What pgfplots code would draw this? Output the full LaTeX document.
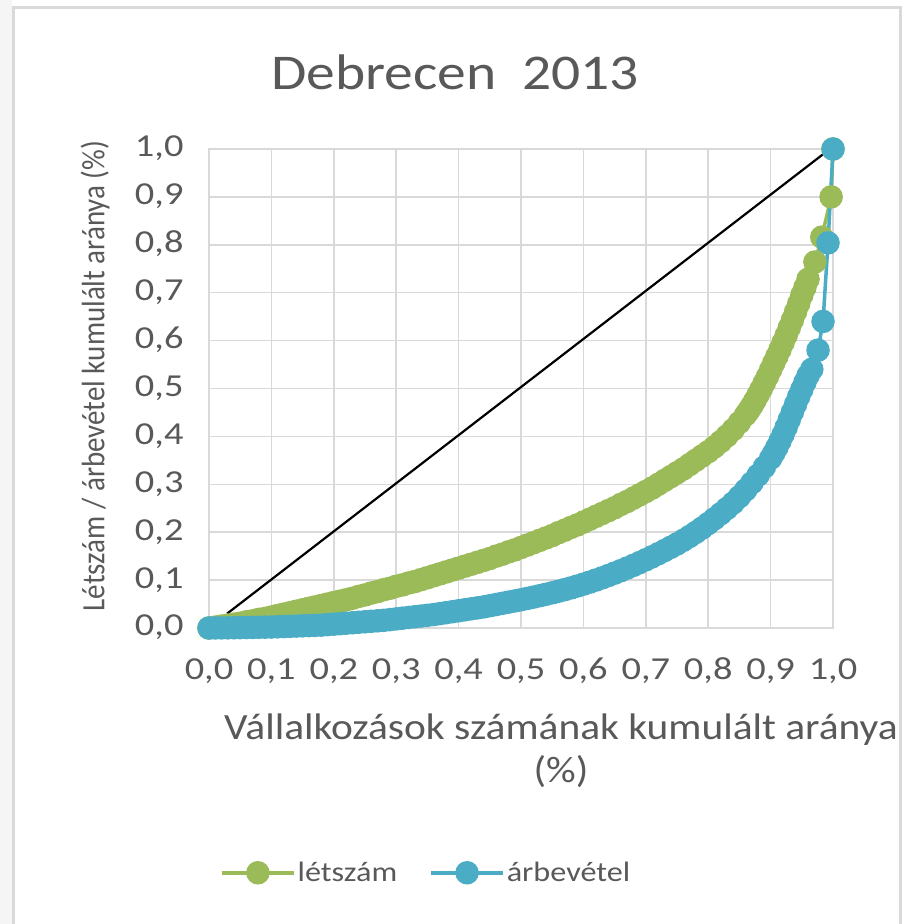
\documentclass[border=0pt]{standalone}
\usepackage{fontspec}
\setmainfont{Carlito}
\usepackage{graphicx}
\usepackage{pgfplots}
\pgfplotsset{compat=1.18}
\definecolor{grn}{HTML}{9BBB59}
\definecolor{blu}{HTML}{4BACC6}
\definecolor{txt}{HTML}{595959}
\definecolor{grd}{HTML}{D9D9D9}
\newcommand{\fs}[1]{\fontsize{#1bp}{#1bp}\selectfont}
\newcommand{\sx}[2][1.2]{\scalebox{#1}[1]{#2}}
\begin{document}
\begin{tikzpicture}[x=1bp,y=1bp]
\useasboundingbox (0,0) rectangle (903,924);
\fill[white] (0,0) rectangle (903,924);
\fill[black!4] (0,0) rectangle (12,924);
\draw[grd, line width=3bp] (13.5,-5) -- (13.5,916.5) -- (900.5,916.5) -- (900.5,-5);
\begin{axis}[
  at={(209bp,296bp)}, anchor=south west,
  scale only axis, width=624bp, height=479bp,
  xmin=0, xmax=1, ymin=0, ymax=1,
  xtick={0,0.1,0.2,0.3,0.4,0.5,0.6,0.7,0.8,0.9,1},
  ytick={0,0.1,0.2,0.3,0.4,0.5,0.6,0.7,0.8,0.9,1},
  xticklabels={{\sx{0,0}},{\sx{0,1}},{\sx{0,2}},{\sx{0,3}},{\sx{0,4}},{\sx{0,5}},{\sx{0,6}},{\sx{0,7}},{\sx{0,8}},{\sx{0,9}},{\sx{1,0}}},
  yticklabels={{\sx{0,0}},{\sx{0,1}},{\sx{0,2}},{\sx{0,3}},{\sx{0,4}},{\sx{0,5}},{\sx{0,6}},{\sx{0,7}},{\sx{0,8}},{\sx{0,9}},{\sx{1,0}}},
  grid=major, major grid style={grd, line width=1.5bp},
  axis line style={grd, line width=1.5bp},
  major tick length=0pt,
  clip=false,
  tick label style={font=\fs{32}, text=txt, text height=21bp, text depth=5bp},
  xticklabel style={anchor=north, yshift=-27bp},
  yticklabel style={anchor=east, xshift=-22bp},
  legend columns=2,
  legend style={draw=none, fill=none, at={(0.348,-0.511)}, anchor=center,
    font=\fs{28}, text=txt,
    /tikz/every even column/.append style={column sep=30bp}},
  legend image code/.code={\draw[mark repeat=2,mark phase=2,#1] plot coordinates {(0bp,0bp) (36bp,0bp) (72bp,0bp)};},
]
\addplot[black, line width=2.2bp, forget plot] coordinates {(0.029,0.03) (0.985,0.99)};
\addplot[grn, line width=3.5bp, mark=*, mark size=10bp, mark options={draw=none, fill=grn}] coordinates {
(0,0) (0.01,0.002) (0.02,0.004) (0.03,0.006) (0.04,0.008) (0.05,0.010)
(0.06,0.013) (0.07,0.015) (0.08,0.018) (0.09,0.020) (0.10,0.023)
(0.11,0.026) (0.12,0.029) (0.13,0.032) (0.14,0.035) (0.15,0.038)
(0.16,0.041) (0.17,0.044) (0.18,0.047) (0.19,0.050) (0.20,0.053)
(0.21,0.056) (0.22,0.059) (0.23,0.062) (0.24,0.066) (0.25,0.069)
(0.26,0.073) (0.27,0.076) (0.28,0.080) (0.29,0.083) (0.30,0.087)
(0.31,0.090) (0.32,0.094) (0.33,0.097) (0.34,0.101) (0.35,0.105)
(0.36,0.109) (0.37,0.113) (0.38,0.117) (0.39,0.121) (0.40,0.125)
(0.41,0.129) (0.42,0.133) (0.43,0.137) (0.44,0.141) (0.45,0.145)
(0.46,0.150) (0.47,0.154) (0.48,0.159) (0.49,0.163) (0.50,0.168)
(0.51,0.173) (0.52,0.178) (0.53,0.183) (0.54,0.188) (0.55,0.193)
(0.56,0.199) (0.57,0.204) (0.58,0.210) (0.59,0.215) (0.60,0.221)
(0.61,0.227) (0.62,0.233) (0.63,0.239) (0.64,0.245) (0.65,0.251)
(0.66,0.258) (0.67,0.264) (0.68,0.271) (0.69,0.278) (0.70,0.285)
(0.71,0.292) (0.72,0.300) (0.73,0.308) (0.74,0.316) (0.75,0.324)
(0.76,0.332) (0.77,0.341) (0.78,0.350) (0.79,0.359) (0.80,0.368)
(0.81,0.378) (0.82,0.389) (0.83,0.401) (0.84,0.414) (0.85,0.429)
(0.86,0.445) (0.865,0.454) (0.87,0.464) (0.875,0.475) (0.88,0.487)
(0.885,0.499) (0.89,0.512) (0.895,0.525) (0.90,0.539) (0.905,0.553)
(0.91,0.567) (0.915,0.581) (0.92,0.596) (0.925,0.611) (0.93,0.627)
(0.935,0.643) (0.94,0.660) (0.945,0.677) (0.95,0.695) (0.955,0.711)
(0.96,0.728) (0.971,0.764) (0.982,0.816) (0.997,0.90) (1.0,1.0)};
\addlegendentry{\sx[1.15]{létszám}}
\addplot[blu, line width=3.5bp, mark=*, mark size=10bp, mark options={draw=none, fill=blu}] coordinates {
(0,0) (0.01,0.0001) (0.02,0.0002) (0.03,0.0003) (0.04,0.0005) (0.05,0.0007)
(0.06,0.001) (0.07,0.0012) (0.08,0.0015) (0.09,0.0017) (0.10,0.002)
(0.11,0.0025) (0.12,0.003) (0.13,0.0035) (0.14,0.004) (0.15,0.0045)
(0.16,0.005) (0.17,0.0055) (0.18,0.006) (0.19,0.007) (0.20,0.008)
(0.21,0.009) (0.22,0.010) (0.23,0.011) (0.24,0.012) (0.25,0.013)
(0.26,0.014) (0.27,0.015) (0.28,0.016) (0.29,0.0175) (0.30,0.019)
(0.31,0.0205) (0.32,0.022) (0.33,0.0235) (0.34,0.025) (0.35,0.0265)
(0.36,0.028) (0.37,0.030) (0.38,0.032) (0.39,0.034) (0.40,0.036)
(0.41,0.038) (0.42,0.040) (0.43,0.042) (0.44,0.044) (0.45,0.0465)
(0.46,0.049) (0.47,0.0515) (0.48,0.054) (0.49,0.0565) (0.50,0.059)
(0.51,0.0617) (0.52,0.0645) (0.53,0.0674) (0.54,0.0704) (0.55,0.0735)
(0.56,0.0767) (0.57,0.0801) (0.58,0.0837) (0.59,0.0875) (0.60,0.0915)
(0.61,0.0957) (0.62,0.1001) (0.63,0.1047) (0.64,0.1095) (0.65,0.1145)
(0.66,0.1197) (0.67,0.1251) (0.68,0.1307) (0.69,0.1365) (0.70,0.1425)
(0.71,0.1487) (0.72,0.1551) (0.73,0.1617) (0.74,0.1685) (0.75,0.1755)
(0.76,0.183) (0.77,0.191) (0.78,0.1995) (0.79,0.2085) (0.80,0.218)
(0.81,0.228) (0.82,0.2385) (0.83,0.2495) (0.84,0.261) (0.85,0.274)
(0.86,0.288) (0.87,0.303) (0.88,0.319) (0.89,0.336) (0.90,0.354)
(0.905,0.365) (0.91,0.377) (0.915,0.390) (0.92,0.404) (0.925,0.419)
(0.93,0.435) (0.935,0.451) (0.94,0.467) (0.945,0.483) (0.95,0.498)
(0.955,0.513) (0.96,0.527) (0.966,0.540) (0.976,0.580) (0.984,0.640)
(0.992,0.804) (1.0,1.0)};
\addlegendentry{\sx[1.15]{árbevétel}}
\end{axis}
\node[text=txt, font=\fs{50}] at (455,852) {\sx[1.15]{Debrecen\ \ 2013}};
\node[text=txt, font=\fs{37}, align=center, anchor=north] at (561,214) {\sx[1.12]{Vállalkozások számának kumulált aránya}\\[6bp]\sx[1.12]{(\%)}};
\node[text=txt, font=\fs{29}, rotate=90] at (95,548) {\scalebox{1}[1.12]{Létszám / árbevétel kumulált aránya (\%)}};
\end{tikzpicture}
\end{document}
